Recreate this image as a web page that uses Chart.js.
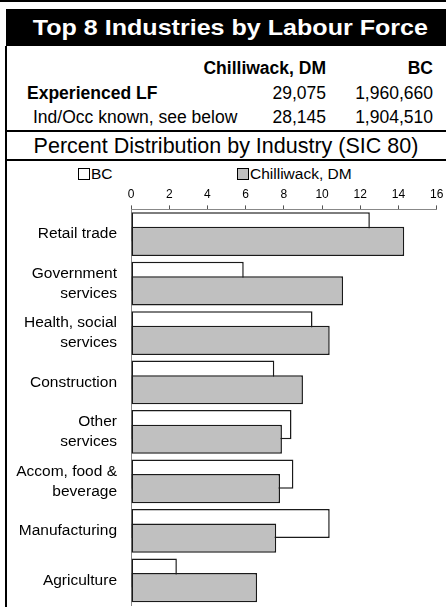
<!DOCTYPE html>
<html>
<head>
<meta charset="utf-8">
<script src="https://cdn.jsdelivr.net/npm/chart.js@4.4.1/dist/chart.umd.min.js"></script>
<style>
  body { margin: 0; background: #fff; font-family: "Liberation Sans", Arial, sans-serif; }
  #page { position: relative; width: 446px; height: 607px; overflow: hidden; background: #fff; }
  .hline { position: absolute; background: #000; }
  #title { position: absolute; left: 6px; top: 9px; width: 432px; padding-left: 8px; height: 37px; background: #000; color: #fff;
           font-weight: bold; font-size: 22px; line-height: 37px; text-align: center; }
  #title span { display: inline-block; transform: scaleX(1.14); }
  .cell { position: absolute; font-size: 17.5px; white-space: nowrap; color: #000; }
  .r { text-align: right; }
  #sub { position: absolute; left: 6px; width: 440px; top: 133px; text-align: center; font-size: 21.5px; line-height: 26px; }
  .leg { position: absolute; top: 165px; font-size: 15.5px; line-height: 18px; white-space: nowrap; }
  .box { display: inline-block; width: 10px; height: 10px; border: 1px solid #000; vertical-align: -1px; margin-right: 1px; }
  #wrap { position: absolute; left: 0; top: 183px; width: 446px; height: 424px; }
</style>
</head>
<body>
<div id="page">
  <div class="hline" style="left:0;top:0;width:446px;height:2px"></div>
  <div id="title"><span>Top 8 Industries by Labour Force</span></div>
  <div class="hline" style="left:5px;top:46px;width:2px;height:561px"></div>
  <div id="table"></div>
  <div class="hline" style="left:6px;top:130px;width:440px;height:1.5px"></div>
  <div id="sub">Percent Distribution by Industry (SIC 80)</div>
  <div class="hline" style="left:6px;top:159px;width:440px;height:1.5px"></div>
  <div class="leg" style="left:78px"><span class="box" style="background:#fff"></span>BC</div>
  <div class="leg" style="left:237px"><span class="box" style="background:#c0c0c0"></span>Chilliwack, DM</div>
  <div id="wrap"><canvas id="chart"></canvas></div>
</div>
<script>
// header table
const colHeads = ['Chilliwack, DM', 'BC'];
const rowLabels = ['Experienced LF', 'Ind/Occ known, see below'];
const chilliwackLF = ['29,075', '28,145'];
const bcLF = ['1,960,660', '1,904,510'];

// chart data (percent of labour force)
const industries = [
    'Retail trade',
    ['Government', 'services'],
    ['Health, social', 'services'],
    'Construction',
    ['Other', 'services'],
    ['Accom, food &', 'beverage'],
    'Manufacturing',
    'Agriculture'
];
const bcPct = [12.5, 5.9, 9.5, 7.5, 8.4, 8.5, 10.4, 2.4];
const chilliwackPct = [14.3, 11.1, 10.4, 9.0, 7.9, 7.8, 7.6, 6.6];
const xMin = 0, xMax = 16, xStep = 2;

let html = '';
html += '<div class="cell r" style="right:120px;top:58px;font-weight:bold">' + colHeads[0] + '</div>';
html += '<div class="cell r" style="right:13px;top:58px;font-weight:bold">' + colHeads[1] + '</div>';
const rowTops = [83, 107];
rowLabels.forEach((lab, i) => {
    const bold = i === 0 ? 'font-weight:bold;' : '';
    const left = i === 0 ? 27 : 33;
    html += '<div class="cell" style="left:' + left + 'px;top:' + rowTops[i] + 'px;' + bold + '">' + lab + '</div>';
    html += '<div class="cell r" style="right:120px;top:' + rowTops[i] + 'px">' + chilliwackLF[i] + '</div>';
    html += '<div class="cell r" style="right:13px;top:' + rowTops[i] + 'px">' + bcLF[i] + '</div>';
});
document.getElementById('table').innerHTML = html;

// draw BC first so the Chilliwack bars sit on top of it
const drawOrder = {
    id: 'drawOrder',
    beforeDatasetsDraw(chart) {
        chart.getDatasetMeta(0).controller.draw();
        chart.getDatasetMeta(1).controller.draw();
        return false;
    }
};

const ctx = document.getElementById('chart').getContext('2d');
new Chart(ctx, {
    type: 'bar',
    data: {
        labels: industries,
        datasets: [
            {
                label: 'BC',
                data: bcPct,
                backgroundColor: '#ffffff',
                borderColor: '#1a1a1a',
                borderWidth: 1.5,
                borderSkipped: false
            },
            {
                label: 'Chilliwack, DM',
                data: chilliwackPct,
                backgroundColor: '#c0c0c0',
                borderColor: '#1a1a1a',
                borderWidth: 1.5,
                borderSkipped: false
            }
        ]
    },
    options: {
        indexAxis: 'y',
        responsive: true,
        maintainAspectRatio: false,
        animation: false,
        categoryPercentage: 0.59,
        barPercentage: 2,
        layout: { padding: { top: 0, right: 9.3, bottom: 2, left: 0 } },
        plugins: {
            legend: { display: false },
            tooltip: { enabled: false }
        },
        scales: {
            x: {
                position: 'top',
                min: xMin,
                max: xMax,
                ticks: {
                    stepSize: xStep,
                    padding: 4,
                    color: '#000',
                    font: { family: 'Liberation Sans', size: 12 }
                },
                grid: { drawOnChartArea: false, drawTicks: true, tickLength: 4, color: '#555' },
                border: { display: true, color: '#888', width: 1 },
                afterFit(scale) { scale.paddingLeft = 0; scale.paddingRight = 0; }
            },
            y: {
                ticks: {
                    padding: 14,
                    color: '#000',
                    font: { family: 'Liberation Sans', size: 15.5, lineHeight: 1.28 }
                },
                grid: { display: false, drawTicks: false },
                border: { display: true, color: '#888', width: 1 },
                afterFit(scale) {
                    scale.width = 131;
                    scale.paddingTop = 0;
                    scale.paddingBottom = 0;
                }
            }
        }
    },
    plugins: [drawOrder]
});
</script>
</body>
</html>
